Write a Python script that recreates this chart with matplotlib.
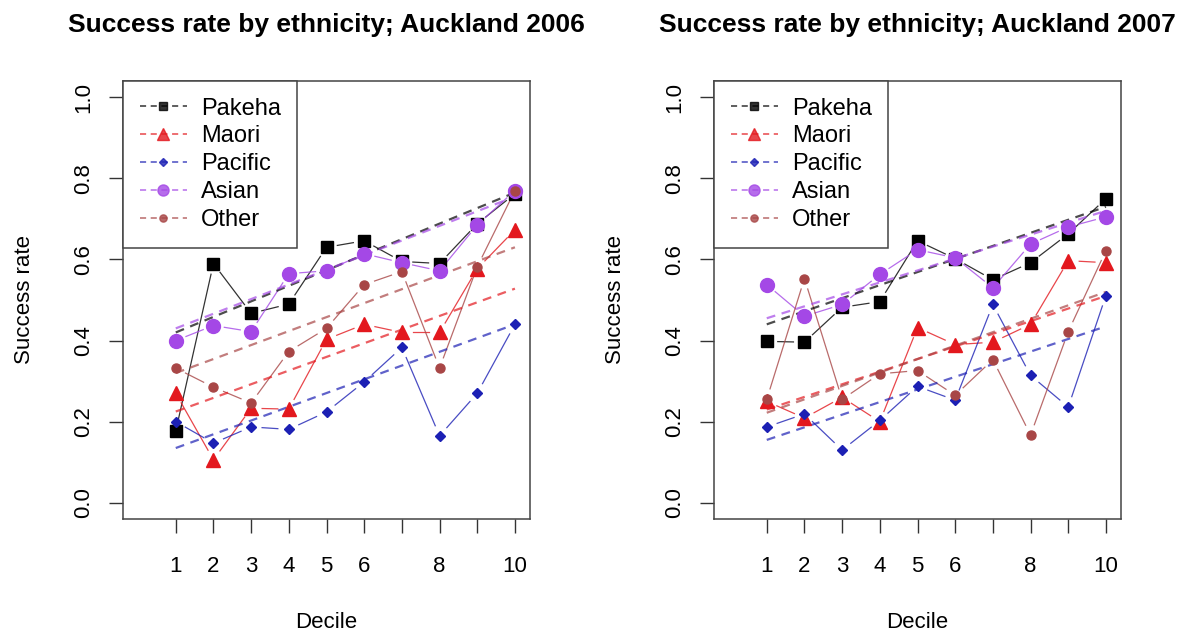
import numpy as np
import matplotlib
matplotlib.use("Agg")
import matplotlib.pyplot as plt
from matplotlib.lines import Line2D

plt.rcParams['font.family'] = ['Liberation Sans', 'DejaVu Sans']

deciles = np.arange(1, 11)
decile_labels = ['1', '2', '3', '4', '5', '6', '', '8', '', '10']
groups = ['Pakeha', 'Maori', 'Pacific', 'Asian', 'Other']
years = ['2006', '2007']

# success rates, one list per group per year
pakeha_06 = [0.177, 0.590, 0.467, 0.490, 0.630, 0.646, 0.595, 0.590, 0.688, 0.762]
maori_06 = [0.270, 0.106, 0.233, 0.231, 0.403, 0.440, 0.420, 0.420, 0.577, 0.673]
pacific_06 = [0.200, 0.147, 0.187, 0.181, 0.224, 0.298, 0.383, 0.165, 0.270, 0.440]
asian_06 = [0.400, 0.437, 0.422, 0.565, 0.572, 0.614, 0.592, 0.572, 0.685, 0.770]
other_06 = [0.332, 0.285, 0.246, 0.373, 0.430, 0.538, 0.570, 0.332, 0.582, 0.770]

pakeha_07 = [0.398, 0.396, 0.482, 0.496, 0.646, 0.602, 0.550, 0.592, 0.663, 0.750]
maori_07 = [0.250, 0.209, 0.260, 0.200, 0.432, 0.390, 0.396, 0.440, 0.597, 0.592]
pacific_07 = [0.187, 0.219, 0.130, 0.203, 0.287, 0.253, 0.489, 0.314, 0.236, 0.511]
asian_07 = [0.538, 0.460, 0.489, 0.563, 0.624, 0.604, 0.530, 0.638, 0.680, 0.705]
other_07 = [0.255, 0.553, 0.255, 0.318, 0.326, 0.265, 0.353, 0.167, 0.422, 0.622]

# fitted trend lines: value at decile 1 and at decile 10
trend_06 = {'Pakeha': (0.420, 0.765), 'Maori': (0.225, 0.528), 'Pacific': (0.135, 0.440),
            'Asian': (0.430, 0.755), 'Other': (0.320, 0.630)}
trend_07 = {'Pakeha': (0.440, 0.730), 'Maori': (0.230, 0.510), 'Pacific': (0.155, 0.435),
            'Asian': (0.455, 0.720), 'Other': (0.222, 0.520)}

data = {
    '2006': [pakeha_06, maori_06, pacific_06, asian_06, other_06],
    '2007': [pakeha_07, maori_07, pacific_07, asian_07, other_07],
}
trends = {'2006': trend_06, '2007': trend_07}

colors = {'Pakeha': 'black', 'Maori': '#e3181e', 'Pacific': '#1c20b4',
          'Asian': '#a448e6', 'Other': '#a84646'}
markers = {'Pakeha': ('s', 8), 'Maori': ('^', 10), 'Pacific': ('D', 5.5),
           'Asian': ('o', 10), 'Other': ('o', 6.5)}


def gapped_line(ax, x, y, color, gap=11.0):
    # R type="b": segments stop short of each point
    pts = ax.transData.transform(np.column_stack([x, y]))
    inv = ax.transData.inverted()
    for p, q in zip(pts[:-1], pts[1:]):
        d = q - p
        L = np.hypot(d[0], d[1])
        if L <= 2 * gap + 2:
            continue
        u = d / L
        a = inv.transform(p + u * gap)
        b = inv.transform(q - u * gap)
        ax.plot([a[0], b[0]], [a[1], b[1]], color=color, lw=0.9, alpha=0.8, zorder=2)


fig = plt.figure(figsize=(11.94, 6.34), dpi=100)
lefts = [123 / 1194, 714 / 1194]

for year, left in zip(years, lefts):
    ax = fig.add_axes([left, 1 - 519 / 634, 407 / 1194, 438 / 634])
    ax.set_xlim(-0.4, 10.4)
    ax.set_ylim(-0.04, 1.04)

    for g, vals in zip(groups, data[year]):
        c = colors[g]
        gapped_line(ax, deciles, vals, c)
        y0, y1 = trends[year][g]
        ax.plot([1, 10], [y0, y1], color=c, lw=1.6, ls=(0, (4, 3)), alpha=0.7, zorder=3)
        m, ms = markers[g]
        ax.plot(deciles, vals, ls='none', marker=m, ms=ms, color=c, mec=c, zorder=4)

    ax.set_xticks(deciles)
    ax.set_xticklabels(decile_labels)
    ax.set_yticks(np.arange(0, 1.01, 0.2))
    ax.set_yticklabels(['0.0', '0.2', '0.4', '0.6', '0.8', '1.0'], rotation=90, va='center')
    ax.tick_params(axis='x', length=10, width=1, color='#333333', pad=17, labelsize=16)
    ax.tick_params(axis='y', length=10, width=1, color='#333333', pad=11, labelsize=16)
    for s in ax.spines.values():
        s.set_color('#444444')
        s.set_linewidth(1.1)

    ax.set_xlabel('Decile', fontsize=16, labelpad=25)
    ax.set_ylabel('Success rate', fontsize=16, labelpad=27)
    ax.set_title('Success rate by ethnicity; Auckland ' + year, fontsize=19,
                 fontweight='bold', pad=35)

    handles = [Line2D([0], [0], color=colors[g], ls=(0, (4, 3)), lw=1.1, alpha=0.8,
                      marker=markers[g][0], ms=markers[g][1] * 0.8, mec=colors[g])
               for g in groups]
    leg = ax.legend(handles, groups, loc='upper left', bbox_to_anchor=(0, 1),
                    borderaxespad=0, fancybox=False, framealpha=1, edgecolor='#444444',
                    fontsize=17, handlelength=2.0, handletextpad=0.6,
                    labelspacing=0.25, borderpad=0.7)
    leg.get_frame().set_linewidth(1.1)

fig.savefig('out.png', dpi=100)
